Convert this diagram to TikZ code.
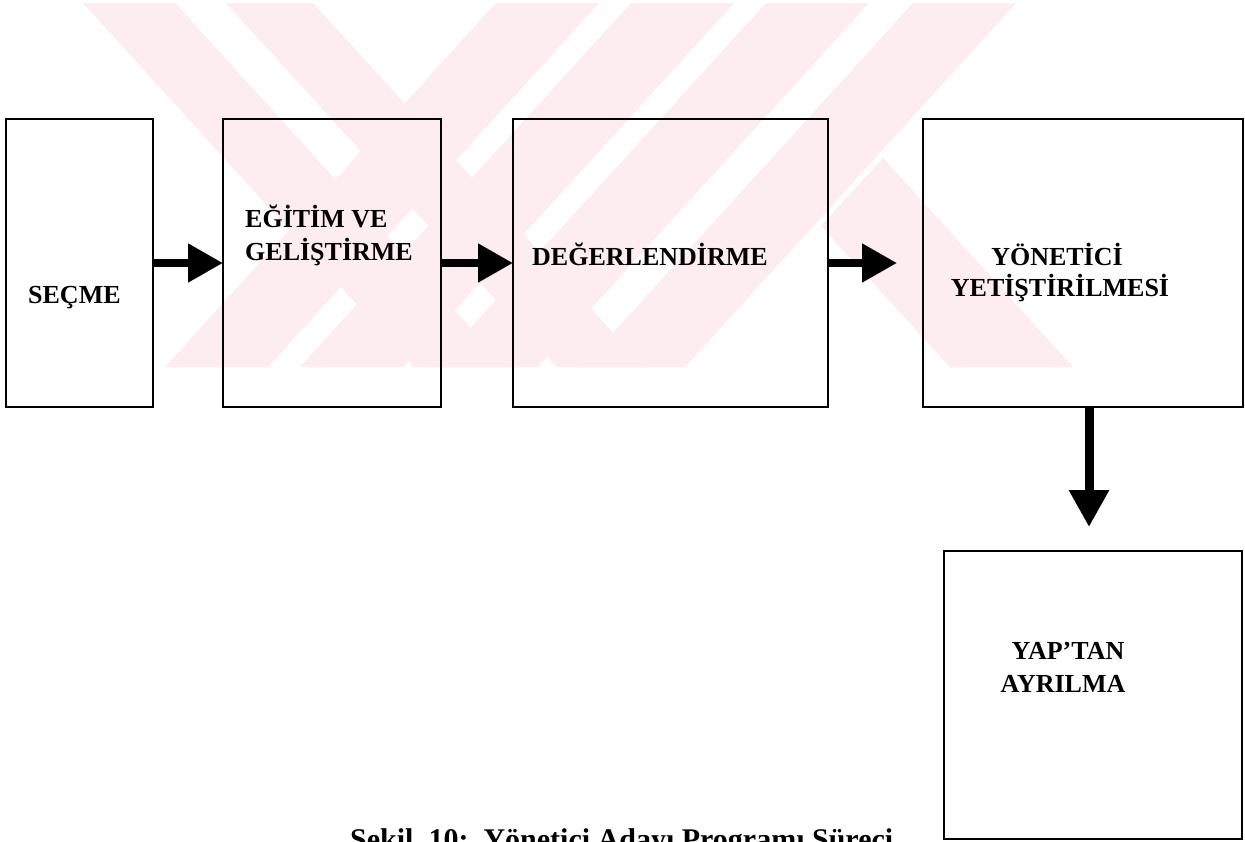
\documentclass[tikz,border=0pt]{standalone}
\usepackage{fontspec}
\setmainfont{Liberation Serif}
\usetikzlibrary{arrows.meta}
\definecolor{wm}{RGB}{253,236,240}
\begin{document}
\begin{tikzpicture}[x=1pt,y=-1pt,
  box/.style={draw=black, line width=2.2pt, inner sep=0pt, outer sep=0pt},
  lbl/.style={font=\fontsize{26}{31}\selectfont\bfseries, inner sep=0pt, text=black},
  captxt/.style={font=\fontsize{30}{35}\selectfont\bfseries, inner sep=0pt, text=black},
  flow/.style={line width=8pt, -{Triangle[length=35pt,width=37pt]}},
  flowv/.style={line width=9pt, -{Triangle[length=37pt,width=38pt]}},
  band/.style={fill=wm, draw=none}]

\useasboundingbox (0,0) rectangle (1245,841);
\fill[white] (0,0) rectangle (1245,841);

% watermark
\begin{scope}
\clip (0,3) rectangle (1245,367);
\fill[band] (83,3) -- (175,3) -- (506,367) -- (414,367) -- cycle;
\fill[band] (226,3) -- (313,3) -- (644,367) -- (557,367) -- cycle;
\fill[band] (496,3) -- (599,3) -- (268,367) -- (165,367) -- cycle;
\fill[band] (631,3) -- (734,3) -- (403,367) -- (300,367) -- cycle;
\fill[band] (766,3) -- (869,3) -- (538,367) -- (435,367) -- cycle;
\fill[band] (913,3) -- (1016,3) -- (685,367) -- (582,367) -- cycle;
\fill[band] (821,226) -- (883,158) -- (1073,367) -- (950,367) -- cycle;
\end{scope}

% boxes
\node[box, minimum width=147pt, minimum height=288pt] (secme) at (79.5,263) {};
\node[box, minimum width=218pt, minimum height=288pt] (egitim) at (332,263) {};
\node[box, minimum width=315pt, minimum height=288pt] (deger) at (670.5,263) {};
\node[box, minimum width=320pt, minimum height=288pt] (yon) at (1083,263) {};
\node[box, minimum width=298pt, minimum height=288pt] (yap) at (1093,695) {};

% labels
\node[lbl, anchor=base west] (t1) at (28,303) {SEÇME};
\node[lbl, anchor=base west] (t2) at (245,227) {EĞİTİM VE};
\node[lbl, anchor=base west] (t3) at (245,260) {GELİŞTİRME};
\node[lbl, anchor=base west] (t4) at (532,265) {DEĞERLENDİRME};
\node[lbl, anchor=base] (t5) at (1057,265) {YÖNETİCİ};
\node[lbl, anchor=base] (t6) at (1060,296) {YETİŞTİRİLMESİ};
\node[lbl, anchor=base] (t7) at (1068,659) {YAP’TAN};
\node[lbl, anchor=base] (t8) at (1063,692) {AYRILMA};

% connectors
\draw[flow] (secme.east) -- (egitim.west);
\draw[flow] (egitim.east) -- (deger.west);
\draw[flow] (deger.east) -- ([xshift=-26pt]yon.west);
\draw[flowv] ([xshift=6pt]yon.south) -- ([xshift=-4pt,yshift=24pt]yap.north);

% caption (cut by the page edge)
\begin{scope}
\clip (0,0) rectangle (1245,841);
\node[captxt, anchor=base west] (caption) at (350,849) {Şekil\hspace{0.5em}10:\hspace{0.5em}Yönetici Adayı Programı Süreci};
\end{scope}
\end{tikzpicture}
\end{document}
